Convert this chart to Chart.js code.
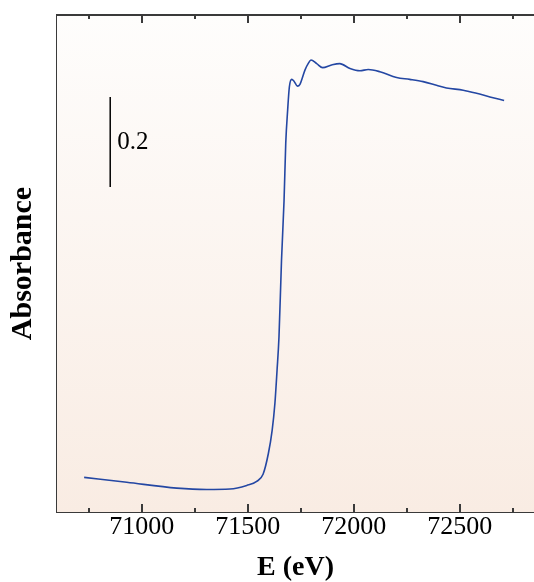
<!DOCTYPE html>
<html>
<head>
<meta charset="utf-8">
<script src="https://cdn.jsdelivr.net/npm/chart.js@4.4.1/dist/chart.umd.min.js"></script>
<style>
  body { margin: 0; background: #fff; }
</style>
</head>
<body>
<canvas id="xas" width="534" height="582"></canvas>
<script>
// XANES spectrum
const energy = [70728, 70929, 71165, 71306, 71416, 71495, 71542, 71572, 71597, 71615,
  71628, 71638, 71647, 71659, 71671, 71679, 71688, 71696, 71707, 71718,
  71734, 71746, 71770, 71786, 71798, 71825, 71853, 71895, 71934, 71982,
  72029, 72068, 72123, 72202, 72264, 72327, 72390, 72437, 72516, 72579,
  72642, 72709];
const absorbance = [0.077, 0.066, 0.053, 0.050, 0.051, 0.059, 0.068, 0.084, 0.130, 0.182,
  0.242, 0.315, 0.388, 0.559, 0.692, 0.819, 0.893, 0.944, 0.961, 0.957,
  0.946, 0.950, 0.982, 0.997, 1.004, 0.996, 0.987, 0.993, 0.996, 0.985,
  0.980, 0.983, 0.978, 0.965, 0.961, 0.956, 0.948, 0.942, 0.937, 0.930,
  0.922, 0.914];

const majorTicks = [71000, 71500, 72000, 72500];
const minorTicks = [70750, 71250, 71750, 72250, 72750];

// vertical scale bar (0.2 absorbance units)
const scaleBarE = [70851, 70851];
const scaleBarA = [0.722, 0.922];
const scaleBarLabel = '0.2';

const SERIF = "'Liberation Serif', 'Times New Roman', serif";
const FRAME = '#3a3a3a';

const framePlugin = {
    id: 'frame',
    beforeDatasetsDraw(chart) {
        const { ctx, chartArea: a } = chart;
        const g = ctx.createLinearGradient(0, a.top, 0, a.bottom);
        g.addColorStop(0, '#fefdfc');
        g.addColorStop(1, '#f9ece3');
        ctx.save();
        ctx.fillStyle = g;
        ctx.fillRect(a.left, a.top, a.right - a.left, a.bottom - a.top);
        ctx.restore();
    },
    afterDraw(chart) {
        const { ctx, chartArea: a } = chart;
        const x = chart.scales.x;
        const y = chart.scales.y;
        ctx.save();
        ctx.strokeStyle = FRAME;
        ctx.lineWidth = 2;
        // top border
        ctx.beginPath();
        ctx.moveTo(a.left - 1, a.top);
        ctx.lineTo(a.right, a.top);
        ctx.stroke();
        // inward ticks, top and bottom
        const drawTick = (v, len) => {
            const px = Math.round(x.getPixelForValue(v));
            ctx.beginPath();
            ctx.moveTo(px, a.top);
            ctx.lineTo(px, a.top + len);
            ctx.moveTo(px, a.bottom);
            ctx.lineTo(px, a.bottom - len);
            ctx.stroke();
        };
        majorTicks.forEach(v => drawTick(v, 8));
        minorTicks.forEach(v => drawTick(v, 4));

        // scale bar label
        ctx.fillStyle = '#000';
        ctx.font = '25px ' + SERIF;
        ctx.textBaseline = 'middle';
        const midA = (scaleBarA[0] + scaleBarA[1]) / 2;
        ctx.fillText(scaleBarLabel, x.getPixelForValue(scaleBarE[0]) + 7, y.getPixelForValue(midA));
        ctx.restore();
    }
};

new Chart(document.getElementById('xas'), {
    type: 'scatter',
    data: {
        datasets: [{
            data: energy.map((e, i) => ({ x: e, y: absorbance[i] })),
            showLine: true,
            borderColor: '#2447a3',
            borderWidth: 1.6,
            pointRadius: 0,
            cubicInterpolationMode: 'monotone'
        }, {
            data: scaleBarE.map((e, i) => ({ x: e, y: scaleBarA[i] })),
            showLine: true,
            borderColor: '#000',
            borderWidth: 1.5,
            pointRadius: 0
        }]
    },
    options: {
        responsive: false,
        animation: false,
        layout: { padding: { top: 15, right: 0, left: 0, bottom: 0 } },
        plugins: {
            legend: { display: false },
            tooltip: { enabled: false }
        },
        scales: {
            x: {
                type: 'linear',
                min: 70600,
                max: 72850,
                afterBuildTicks: (axis) => { axis.ticks = majorTicks.map(v => ({ value: v })); },
                afterFit: (axis) => { axis.height = 70; },
                grid: { display: false },
                border: { display: true, color: FRAME, width: 2 },
                ticks: {
                    color: '#000',
                    font: { family: SERIF, size: 26 },
                    padding: -8,
                    maxRotation: 0,
                    callback: (v) => String(v)
                },
                title: {
                    display: true,
                    text: 'E (eV)',
                    color: '#000',
                    font: { family: SERIF, size: 28, weight: 'bold' },
                    padding: { top: 0, bottom: -3 }
                }
            },
            y: {
                type: 'linear',
                min: 0,
                max: 1.104,
                afterFit: (axis) => { axis.width = 57; },
                grid: { display: false },
                border: { display: true, color: FRAME, width: 2 },
                ticks: { display: false },
                title: {
                    display: true,
                    text: 'Absorbance',
                    color: '#000',
                    font: { family: SERIF, size: 30, weight: 'bold' },
                    padding: { top: 5, bottom: 0 }
                }
            }
        }
    },
    plugins: [framePlugin]
});
</script>
</body>
</html>
